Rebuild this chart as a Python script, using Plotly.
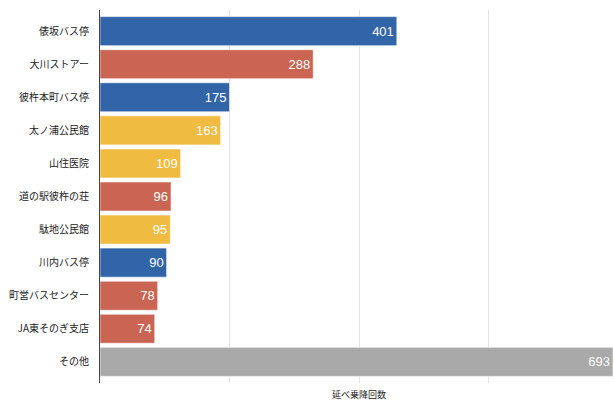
import plotly.graph_objects as go

# Boarding/alighting counts per stop
stops = ["俵坂バス停", "大川ストアー", "彼杵本町バス停", "太ノ浦公民館", "山住医院",
         "道の駅彼杵の荘", "駄地公民館", "川内バス停", "町営バスセンター", "JA東そのぎ支店", "その他"]
counts = [401, 288, 175, 163, 109, 96, 95, 90, 78, 74, 693]
groups = ["blue", "red", "blue", "yellow", "yellow", "red", "yellow", "blue", "red", "red", "gray"]

palette = {"blue": "#3265a8", "red": "#c96552", "yellow": "#efbb41", "gray": "#a9a9a9"}
grid_vals = [175, 350, 525]

fig = go.Figure(go.Bar(
    x=counts,
    y=stops,
    orientation="h",
    marker=dict(color=[palette[g] for g in groups],
                line=dict(color="rgba(255,255,255,0.6)", width=1)),
    text=[str(c) for c in counts],
    textposition="inside",
    insidetextanchor="end",
    textangle=0,
    textfont=dict(color="white", size=13, family="Liberation Sans, Arial, sans-serif"),
    cliponaxis=False,
    width=0.88,
))

fig.update_layout(
    width=614, height=401,
    margin=dict(l=100, r=1, t=10, b=18),
    plot_bgcolor="white", paper_bgcolor="white",
    showlegend=False,
    font=dict(family="Noto Sans CJK JP, sans-serif", size=10, color="#222"),
    xaxis=dict(range=[0, 693], tickvals=grid_vals, showticklabels=False,
               showgrid=True, gridcolor="#e3e3e3", gridwidth=1, zeroline=False,
               showline=False, fixedrange=True),
    yaxis=dict(range=[10.64, -0.64], showline=True, linecolor="#444", linewidth=1,
               ticks="", ticklen=0, showgrid=False, tickfont=dict(size=10, color="#222"),
               ticklabelstandoff=8),
)

fig.add_annotation(text="延べ乗降回数", xref="paper", yref="paper", x=0.505, y=0,
                   yanchor="middle", yshift=-11, showarrow=False,
                   font=dict(size=9, color="#222"))

fig.write_html("out.html")
